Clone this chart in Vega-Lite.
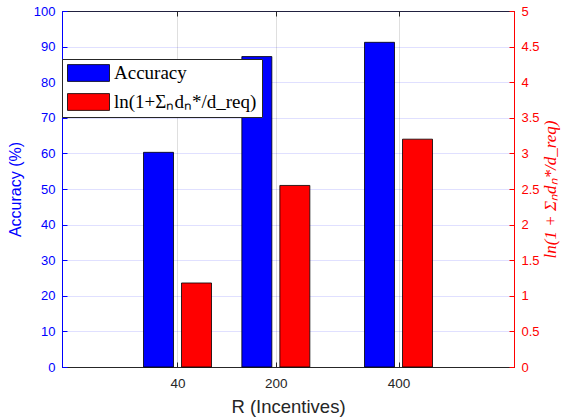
{
  "$schema": "https://vega.github.io/schema/vega-lite/v6.json",
  "width": 452,
  "height": 356,
  "autosize": "none",
  "padding": {"left": 62, "top": 11, "right": 52, "bottom": 50},
  "background": "white",
  "config": {
    "view": {"stroke": "#262626", "strokeWidth": 1},
    "font": "Liberation Sans"
  },
  "data": {
    "values": [
      {"R": "40", "pos": 1, "acc": 60.3, "ln": 1.18},
      {"R": "200", "pos": 1.89, "acc": 87.2, "ln": 2.55},
      {"R": "400", "pos": 3, "acc": 91.2, "ln": 3.2}
    ]
  },
  "layer": [
    {
      "mark": {"type": "bar", "width": 30, "xOffset": -19, "stroke": "black", "strokeWidth": 0.8},
      "encoding": {
        "x": {
          "field": "pos",
          "type": "quantitative",
          "scale": {"domain": [0, 4], "nice": false, "zero": false},
          "axis": {
            "values": [1, 1.89, 3],
            "labelExpr": "datum.value == 1 ? '40' : datum.value == 3 ? '400' : '200'",
            "grid": true,
            "gridColor": "#262626",
            "gridOpacity": 0.15,
            "domainColor": "#262626",
            "tickColor": "#262626",
            "tickSize": -5,
            "labelPadding": 14,
            "labelColor": "#262626",
            "labelFontSize": 13.5,
            "title": "R (Incentives)",
            "titleFontSize": 18.5,
            "titleFontWeight": "normal",
            "titleColor": "#262626",
            "titlePadding": 8
          }
        },
        "y": {
          "field": "acc",
          "type": "quantitative",
          "scale": {"domain": [0, 100], "nice": false},
          "axis": {
            "values": [0, 10, 20, 30, 40, 50, 60, 70, 80, 90, 100],
            "title": "Accuracy (%)",
            "titleColor": "#0000ff",
            "titleFontSize": 16,
            "titleFontWeight": "normal",
            "titlePadding": 10,
            "labelColor": "#0000ff",
            "labelFontSize": 13,
            "domainColor": "#0000ff",
            "tickColor": "#0000ff",
            "tickSize": -5,
            "labelPadding": 12,
            "grid": true,
            "gridColor": "#0000ff",
            "gridOpacity": 0.12
          }
        },
        "color": {
          "datum": "Accuracy",
          "type": "nominal",
          "scale": {"domain": ["Accuracy", "ln(1+Σₙdₙ*/d_req)"], "range": ["#0000ff", "#ff0000"]},
          "legend": {
            "title": null,
            "orient": "none",
            "legendX": 0,
            "legendY": 48,
            "strokeColor": "#262626",
            "fillColor": "white",
            "padding": 5,
            "symbolType": "M-1,-0.4H1V0.4H-1Z",
            "symbolSize": 1764,
            "symbolStrokeColor": "black",
            "symbolStrokeWidth": 0.8,
            "symbolOpacity": 1,
            "clipHeight": 18,
            "rowPadding": 10,
            "labelFont": "Liberation Serif",
            "labelFontSize": 19,
            "labelColor": "black",
            "labelOffset": 4,
            "labelLimit": 300
          }
        }
      }
    },
    {
      "mark": {"type": "bar", "width": 30, "xOffset": 19, "stroke": "black", "strokeWidth": 0.8},
      "encoding": {
        "x": {
          "field": "pos",
          "type": "quantitative",
          "axis": {
            "orient": "top",
            "values": [1, 1.89, 3],
            "labels": false,
            "title": null,
            "grid": false,
            "domain": false,
            "tickColor": "#262626",
            "tickSize": -5
          }
        },
        "y": {
          "field": "ln",
          "type": "quantitative",
          "scale": {"domain": [0, 5], "nice": false},
          "axis": {
            "orient": "right",
            "values": [0, 0.5, 1, 1.5, 2, 2.5, 3, 3.5, 4, 4.5, 5],
            "format": ".1~f",
            "title": "ln(1 + Σₙdₙ*/d_req)",
            "titleFont": "Liberation Serif",
            "titleFontStyle": "italic",
            "titleFontWeight": "normal",
            "titleFontSize": 17,
            "titleAngle": 270,
            "titleBaseline": "top",
            "titleColor": "#ff0000",
            "titlePadding": 3,
            "labelColor": "#ff0000",
            "labelFontSize": 13,
            "domainColor": "#ff0000",
            "tickColor": "#ff0000",
            "tickSize": -5,
            "labelPadding": 12,
            "grid": false
          }
        },
        "color": {"datum": "ln(1+Σₙdₙ*/d_req)", "type": "nominal"}
      }
    }
  ],
  "resolve": {"scale": {"y": "independent"}, "axis": {"x": "independent"}}
}
